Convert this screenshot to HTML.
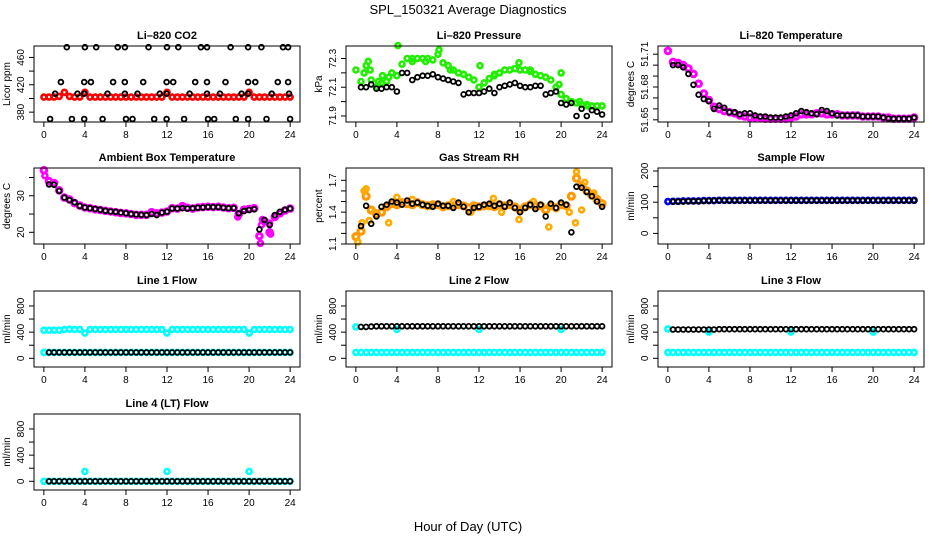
<!DOCTYPE html>
<html><head><meta charset="utf-8"><style>
html,body{margin:0;padding:0;background:#fff;}
svg{display:block;font-family:"Liberation Sans",Arial,sans-serif;}
</style></head><body>
<svg id="chart" width="936" height="540" viewBox="0 0 936 540" xmlns="http://www.w3.org/2000/svg">
<rect width="936" height="540" fill="#fff"/>
<text x="468" y="14" text-anchor="middle" font-size="13">SPL_150321  Average Diagnostics</text>
<text x="468" y="531" text-anchor="middle" font-size="13">Hour of Day (UTC)</text>
</svg>
<script>
const hours = [0,0.5,1,1.5,2,2.5,3,3.5,4,4.5,5,5.5,6,6.5,7,7.5,8,8.5,9,9.5,10,10.5,11,11.5,12,12.5,13,13.5,14,14.5,15,15.5,16,16.5,17,17.5,18,18.5,19,19.5,20,20.5,21,21.5,22,22.5,23,23.5,24];
const xTicks = [0,4,8,12,16,20,24];

const co2Red = [402,402,402,403,409,403,402,402,409,402,402,402,402,402,402,402,402,402,402,402,402,402,402,402,409,402,402,402,402,402,402,402,402,402,402,402,402,402,402,402,409,402,402,402,402,402,402,402,402];
const co2BlackT = [2.24,4.0,5.1,7.2,7.9,10.2,12.0,13.1,15.3,15.9,18.2,19.9,21.2,23.3,23.8, 1.66,3.93,4.58,6.75,7.89,9.68,11.96,12.6,14.75,15.9,17.7,19.9,20.6,22.8,23.8, 1.1,3.28,3.93,6.2,7.9,9.13,11.3,11.96,14.2,15.9,17.15,19.27,19.9,22.2,23.9, 0.61,2.73,3.93,5.72,8.0,8.64,10.75,11.96,13.67,16.0,16.6,18.7,19.9,21.7,24.0];
const co2BlackV = [475,475,475,475,475,475,475,475,475,475,475,475,475,475,475, 424,424,424,424,424,424,424,424,424,424,424,424,424,424,424, 407,407,407,407,407,407,407,407,407,407,407,407,407,407,407, 370,370,370,370,370,370,370,370,370,370,370,370,370,370,370];

const pressGreen = [72.22,72.14,72.25,72.15,72.10,72.13,72.14,72.20,72.18,72.26,72.30,72.30,72.30,72.30,72.30,72.29,72.33,72.27,72.25,72.22,72.20,72.19,72.17,72.15,72.10,72.13,72.16,72.18,72.20,72.22,72.22,72.23,72.22,72.22,72.21,72.19,72.18,72.17,72.15,72.10,72.05,72.02,72.00,71.99,71.98,71.98,71.97,71.97,71.97];
const pressGreenXT = [4.1,8.1,12.1,15.9,20.0,19.8,0.8,1.2,2.6,1.4,2.2,3.2,5.5,6.8,9.2,13.5,17.0,21.8,22.6];
const pressGreenXV = [72.39,72.36,72.25,72.27,72.20,72.12,72.20,72.28,72.18,72.22,72.14,72.17,72.28,72.28,72.22,72.19,72.22,72.00,71.97];
const pressBlack = [null,72.10,72.10,72.12,72.09,72.09,72.10,72.10,72.07,72.20,72.20,72.15,72.17,72.18,72.18,72.19,72.17,72.16,72.15,72.14,72.13,72.05,72.06,72.06,72.06,72.07,72.09,72.06,72.10,72.11,72.12,72.13,72.11,72.10,72.10,72.11,72.11,72.05,72.06,72.07,71.99,71.98,71.99,71.90,71.95,71.90,71.94,71.93,71.91];

const tempMag = [51.713,51.703,51.702,51.700,51.697,51.692,51.683,51.674,51.668,51.662,51.660,51.658,51.657,51.656,51.654,51.653,51.652,51.652,51.652,51.651,51.651,51.651,51.651,51.651,51.652,51.653,51.655,51.655,51.655,51.656,51.656,51.655,51.655,51.655,51.654,51.654,51.654,51.654,51.653,51.653,51.653,51.653,51.652,51.652,51.651,51.651,51.651,51.651,51.652];
const tempBlack = [null,51.700,51.700,51.698,51.692,51.682,51.673,51.669,51.667,51.660,51.663,51.661,51.657,51.657,51.655,51.656,51.656,51.654,51.653,51.653,51.652,51.652,51.652,51.653,51.654,51.656,51.658,51.657,51.656,51.655,51.659,51.658,51.656,51.654,51.654,51.654,51.654,51.654,51.653,51.653,51.653,51.653,51.652,51.651,51.651,51.651,51.651,51.651,51.652];

const ambMag = [37,34,33.5,31.5,29.5,29,28,27.3,26.8,26.6,26.3,26.1,25.9,25.7,25.5,25.3,25.2,25.0,24.8,24.8,24.8,25.5,25.2,25.4,25.7,26.6,26.5,27.2,26.7,26.5,26.8,26.9,27,26.9,27,26.8,26.6,26.7,25,26.2,26.4,26.6,19,23,20,24.2,25.2,26,26.5];
const ambMagXT = [21.1,21.2,21.3,22.1,22.0,0.1,18.9];
const ambMagXV = [17,22,23.5,19.5,22.5,35.5,24.2];
const ambBlack = [null,33.1,33,31.3,29.5,28.8,28.2,27.2,26.8,26.6,26.4,26.2,25.9,25.7,25.6,25.4,25.2,25.0,24.9,24.8,24.7,25.0,24.7,25.4,25.6,26.5,26.5,26.6,26.5,26.6,26.7,26.8,26.9,26.9,26.9,26.7,26.6,26.6,25.2,25.8,26.1,26.3,20.8,23.4,22,24.7,25.6,26.2,26.5];

const rhOrange = [1.17,1.22,1.55,1.42,1.38,1.40,1.45,1.48,1.47,1.49,1.48,1.47,1.49,1.47,1.46,1.47,1.47,1.45,1.46,1.46,1.47,1.46,1.44,1.46,1.45,1.46,1.46,1.45,1.47,1.46,1.47,1.45,1.42,1.45,1.47,1.46,1.46,1.42,1.46,1.44,1.47,1.46,1.55,1.72,1.65,1.60,1.56,1.52,1.48];
const rhOrangeXT = [0.2,0.8,1.0,1.3,3.2,4.0,13.4,15.9,18.8,21.4,21.5,22.0,22.3,0.6,1.8,5.5,9.5,11.2,14.2,17.3,20.8,23.2];
const rhOrangeXV = [1.12,1.60,1.62,1.32,1.30,1.54,1.53,1.33,1.26,1.30,1.78,1.42,1.68,1.30,1.40,1.52,1.50,1.40,1.40,1.50,1.40,1.58];
const rhBlack = [null,1.27,1.46,1.29,1.36,1.45,1.47,1.50,1.49,1.47,1.51,1.48,1.49,1.47,1.46,1.45,1.48,1.46,1.46,1.44,1.49,1.45,1.40,1.44,1.45,1.47,1.48,1.46,1.48,1.45,1.49,1.44,1.40,1.44,1.47,1.43,1.47,1.36,1.48,1.44,1.49,1.47,1.21,1.64,1.63,1.59,1.55,1.50,1.45];

const sampleBlue = [102,103,103,104,104,104,104,105,105,105,106,106,106,106,106,106,106,106,106,106,106,106,106,106,106,106,106,106,106,106,106,106,106,106,106,106,106,106,106,106,106,106,106,106,106,106,106,106,106];
const sampleBlack = [null,102,102,102,103,103,103,104,104,105,105,105,105,105,105,105,105,105,105,105,105,105,105,105,105,105,105,105,105,105,105,105,105,105,105,105,105,105,105,105,105,105,105,105,105,105,105,105,105];

const l1CyanHi = [430,430,430,430,440,445,440,440,385,440,440,440,440,440,440,440,440,440,440,440,440,440,440,440,385,440,440,440,440,440,440,440,440,440,440,440,440,440,440,440,385,440,440,440,440,440,440,440,440];
const l1CyanLo = [90,90,90,90,90,90,90,90,90,90,90,90,90,90,90,90,90,90,90,90,90,90,90,90,90,90,90,90,90,90,90,90,90,90,90,90,90,90,90,90,90,90,90,90,90,90,90,90,90];
const l1Black = [null,90,90,90,90,90,90,90,90,90,90,90,90,90,90,90,90,90,90,90,90,90,90,90,90,90,90,90,90,90,90,90,90,90,90,90,90,90,90,90,90,90,90,90,90,90,90,90,90];

const l2Cyan = [90,90,90,90,90,90,90,90,90,90,90,90,90,90,90,90,90,90,90,90,90,90,90,90,90,90,90,90,90,90,90,90,90,90,90,90,90,90,90,90,90,90,90,90,90,90,90,90,90];
const l2CyanXT = [0,4,12,20];
const l2CyanXV = [480,440,440,440];
const l2Black = [null,480,480,485,490,490,490,490,490,490,490,490,490,490,490,490,490,490,490,490,490,490,490,490,490,490,490,490,490,490,490,490,490,490,490,490,490,490,490,490,490,490,490,490,490,490,490,490,490];

const l3Cyan = [90,90,90,90,90,90,90,90,90,90,90,90,90,90,90,90,90,90,90,90,90,90,90,90,90,90,90,90,90,90,90,90,90,90,90,90,90,90,90,90,90,90,90,90,90,90,90,90,90];
const l3CyanXT = [0,4,12,20];
const l3CyanXV = [450,400,400,400];
const l3Black = [null,440,440,440,440,440,440,440,440,440,445,445,445,445,445,445,445,445,445,445,445,445,445,445,445,445,445,445,445,445,445,445,445,445,445,445,445,445,445,445,445,445,445,445,445,445,445,445,445];

const l4Cyan = [0,0,0,0,0,0,0,0,0,0,0,0,0,0,0,0,0,0,0,0,0,0,0,0,0,0,0,0,0,0,0,0,0,0,0,0,0,0,0,0,0,0,0,0,0,0,0,0,0];
const l4CyanXT = [4,12,20];
const l4CyanXV = [150,150,150];
const l4Black = [null,0,0,0,0,0,0,0,0,0,0,0,0,0,0,0,0,0,0,0,0,0,0,0,0,0,0,0,0,0,0,0,0,0,0,0,0,0,0,0,0,0,0,0,0,0,0,0,0];

const NS = "http://www.w3.org/2000/svg";
const svg = document.getElementById("chart");
function mk(tag, attrs, parent) {
  const e = document.createElementNS(NS, tag);
  for (const k in attrs) e.setAttribute(k, attrs[k]);
  (parent || svg).appendChild(e);
  return e;
}
const rowTops = [46, 168, 291, 414];
const panels = [
  {key:"co2", title:"Li\u2013820 CO2", ylab:"Licor ppm", col:0, row:0, ymin:365.6, ymax:476.7, ticks:[380,400,420,440,460], labels:[380,420,460],
   series:[[hours,co2Red,"#ff0000",2.5,"red",2.6],[co2BlackT,co2BlackV,"#000",2.4,"black",1.8]]},
  {key:"pressure", title:"Li\u2013820 Pressure", ylab:"kPa", col:1, row:0, ymin:71.858, ymax:72.387, ticks:[71.9,72.0,72.1,72.2,72.3], labels:[71.9,72.1,72.3],
   series:[[hours,pressGreen,"#22ee00",2.5,"green",2.6],[pressGreenXT,pressGreenXV,"#22ee00",2.5,"green-extra",2.6],[hours,pressBlack,"#000",2.4,"black",1.8]]},
  {key:"licor-temp", title:"Li\u2013820 Temperature", ylab:"degrees C", col:2, row:0, ymin:51.648, ymax:51.7175, ticks:[51.65,51.66,51.67,51.68,51.69,51.70,51.71], labels:[51.65,51.68,51.71],
   series:[[hours,tempMag,"#ff00ff",2.8,"magenta",3],[hours,tempBlack,"#000",2.4,"black",1.8]]},
  {key:"ambient", title:"Ambient Box Temperature", ylab:"degrees C", col:0, row:1, ymin:16.8, ymax:37.6, ticks:[20,25,30,35], labels:[20,30],
   series:[[hours,ambMag,"#ff00ff",2.8,"magenta",3],[ambMagXT,ambMagXV,"#ff00ff",2.5,"magenta-extra",2.6],[hours,ambBlack,"#000",2.4,"black",1.8]]},
  {key:"rh", title:"Gas Stream RH", ylab:"percent", col:1, row:1, ymin:1.1, ymax:1.816, ticks:[1.1,1.2,1.3,1.4,1.5,1.6,1.7], labels:[1.1,1.4,1.7],
   series:[[hours,rhOrange,"#ff9900",3,"orange",3.2],[rhOrangeXT,rhOrangeXV,"#ffaa00",2.5,"orange-extra",2.6],[hours,rhBlack,"#000",2.4,"black",1.8]]},
  {key:"sample-flow", title:"Sample Flow", ylab:"ml/min", col:2, row:1, ymin:-34, ymax:209.6, ticks:[0,50,100,150,200], labels:[0,100,200],
   series:[[hours,sampleBlue,"#0000ff",2.5,"blue",2.6],[hours,sampleBlack,"#000",2.4,"black",1.8]]},
  {key:"line1", title:"Line 1 Flow", ylab:"ml/min", col:0, row:2, ymin:-133, ymax:1029, ticks:[0,200,400,600,800], labels:[0,400,800],
   series:[[hours,l1CyanHi,"#00ffff",2.5,"cyan-high",2.6],[hours,l1CyanLo,"#00ffff",2.5,"cyan-low",2.6],[hours,l1Black,"#000",2.4,"black",1.8]]},
  {key:"line2", title:"Line 2 Flow", ylab:"ml/min", col:1, row:2, ymin:-133, ymax:1029, ticks:[0,200,400,600,800], labels:[0,400,800],
   series:[[hours,l2Cyan,"#00ffff",2.5,"cyan",2.6],[l2CyanXT,l2CyanXV,"#00ffff",2.5,"cyan-extra",2.6],[hours,l2Black,"#000",2.4,"black",1.8]]},
  {key:"line3", title:"Line 3 Flow", ylab:"ml/min", col:2, row:2, ymin:-133, ymax:1029, ticks:[0,200,400,600,800], labels:[0,400,800],
   series:[[hours,l3Cyan,"#00ffff",2.5,"cyan",2.6],[l3CyanXT,l3CyanXV,"#00ffff",2.5,"cyan-extra",2.6],[hours,l3Black,"#000",2.4,"black",1.8]]},
  {key:"line4", title:"Line 4 (LT) Flow", ylab:"ml/min", col:0, row:3, ymin:-133, ymax:1029, ticks:[0,200,400,600,800], labels:[0,400,800],
   series:[[hours,l4Cyan,"#00ffff",2.5,"cyan",2.6],[l4CyanXT,l4CyanXV,"#00ffff",2.5,"cyan-extra",2.6],[hours,l4Black,"#000",2.4,"black",1.8]]}
];
panels.forEach(p => {
  const L = 34 + 312 * p.col, R = 300 + 312 * p.col;
  const T = rowTops[p.row], B = T + 76;
  const xs = t => L + (t + 0.96) / 25.92 * (R - L);
  const ys = v => B - (v - p.ymin) / (p.ymax - p.ymin) * (B - T);
  const g = mk("g", {});
  
  
  const title = mk("text", {x:(L+R)/2, y:T-7, "text-anchor":"middle", "font-size":"11", "font-weight":"bold"}, g);
  title.textContent = p.title;
  
  
  const pts = mk("g", {fill:"none"}, g);
  
  
  p.series.forEach(s => {
    const [ts, vs, col, r, nm, sw] = s;
    const n = Math.min(ts.length, vs.length);
    for (let i = 0; i < n; i++) {
      if (vs[i] === null || vs[i] === undefined) continue;
      const c = mk("circle", {cx:xs(ts[i]).toFixed(1), cy:ys(vs[i]).toFixed(1), r:r, stroke:col, "stroke-width":sw, fill:"none"}, pts);
      
      
    }
  });
  const box = mk("rect", {x:L, y:T, width:R-L, height:B-T, fill:"none", stroke:"#000", "stroke-width":"1"}, g);
  
  
  const xa = mk("g", {}, g);
  
  
  mk("line", {x1:xs(0), x2:xs(24), y1:B, y2:B, stroke:"#000"}, xa);
  xTicks.forEach(t => {
    mk("line", {x1:xs(t), x2:xs(t), y1:B, y2:B+5, stroke:"#000"}, xa);
    const tx = mk("text", {x:xs(t), y:B+16, "text-anchor":"middle", "font-size":"10"}, xa);
    tx.textContent = t;
    
    
  });
  const ya = mk("g", {}, g);
  
  
  p.ticks.forEach(v => {
    mk("line", {x1:L-5, x2:L, y1:ys(v), y2:ys(v), stroke:"#000"}, ya);
  });
  p.labels.forEach(v => {
    const x = L - 10, y = ys(v);
    const tx = mk("text", {x:x, y:y, "text-anchor":"middle", "font-size":"10", transform:`rotate(-90 ${x} ${y})`}, ya);
    tx.textContent = v;
    
    
  });
  const yx = L - 24, yy = (T + B) / 2;
  const yl = mk("text", {x:yx, y:yy, "text-anchor":"middle", "font-size":"10", transform:`rotate(-90 ${yx} ${yy})`}, g);
  yl.textContent = p.ylab;
  
  
});
</script>
</body></html>
